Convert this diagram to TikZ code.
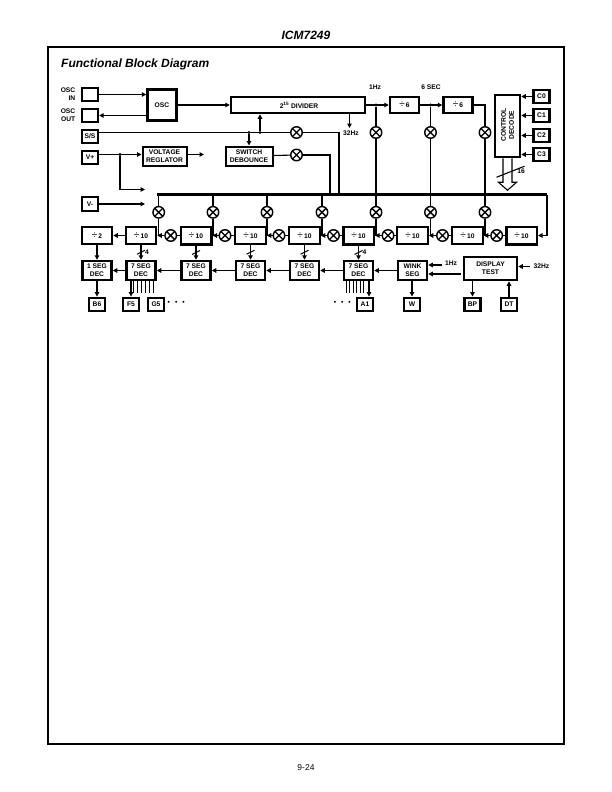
\documentclass[tikz,border=0pt]{standalone}
\usepackage{fontspec}
\setmainfont{Liberation Sans}
\usetikzlibrary{arrows.meta}
\newcommand{\divsign}{{\fontsize{10}{8}\selectfont\mdseries ÷}\,}

\begin{document}
\begin{tikzpicture}[x=1pt, y=-1pt, font=\fontsize{6.7}{8}\selectfont\bfseries,
		box_style/.style={draw=black,line width=2pt,inner sep=0pt,align=center,fill=white},
		box_heavy/.style={box_style,line width=2.5pt},
		pin_style/.style={box_style,line width=2.4pt,minimum width=16pt,minimum height=13.5pt},
		count_style/.style={box_style,minimum width=30.5pt,minimum height=17.5pt},
		count_heavy/.style={box_heavy,minimum width=30.5pt,minimum height=17.5pt},
		dec_style/.style={box_heavy,minimum width=29pt,minimum height=19pt},
		xor_style/.style={circle,draw=black,line width=1.4pt,fill=white,inner sep=0pt,minimum size=11.5pt,
			path picture={\draw[line width=1.4pt] (path picture bounding box.north west) -- (path picture bounding box.south east)
			(path picture bounding box.north east) -- (path picture bounding box.south west);}},
		dot_style/.style={circle,fill=black,inner sep=0pt,minimum size=3.2pt},
		text_style/.style={inner sep=0pt},
		edge_style/.style={draw=black,line width=1.1pt},
		arrow_style/.style={edge_style,-{Triangle[length=4.5pt,width=4.5pt]}},
		bold_arrow/.style={arrow_style,line width=1.7pt},
		bus_style/.style={draw=black,line width=3pt}]

		\useasboundingbox (0,0) rectangle (612,792);
		\draw[line width=2pt] (47.5,47.5) rectangle (564,744);
		\node[text_style,font=\fontsize{12}{14}\selectfont\bfseries\itshape] (title) at (306,35) {ICM7249};
		\node[text_style,anchor=west,font=\fontsize{12}{14}\selectfont\bfseries\itshape] (heading) at (61,64) {Functional Block Diagram};
		\node[text_style,font=\fontsize{8.5}{10}\selectfont] (page) at (306,768) {9-24};

		% inputs on the left
		\node[pin_style] (osc_in) at (90,94.5) {};
		\node[pin_style] (osc_out) at (90,115.5) {};
		\node[pin_style] (ss) at (90,136.5) {S/S};
		\node[pin_style] (vplus) at (90,157.5) {V+};
		\node[pin_style] (vminus) at (90,204) {V-};
		\node[text_style,anchor=east,align=right] (osc_in_txt) at (75.5,94) {OSC\\IN};
		\node[text_style,anchor=east,align=right] (osc_out_txt) at (75.5,115) {OSC\\OUT};

		% top row
		\node[box_heavy,minimum width=29pt,minimum height=31pt] (osc) at (162,105) {OSC};
		\node[box_heavy,minimum width=134pt,minimum height=16pt] (divider) at (298,105) {\hspace*{2pt}2\textsuperscript{15} DIVIDER};
		\node[box_style,minimum width=44pt,minimum height=19pt] (regulator) at (164.5,156) {VOLTAGE\\REGLATOR};
		\node[box_style,minimum width=47pt,minimum height=19pt] (debounce) at (249,156) {SWITCH\\DEBOUNCE};
		\node[box_heavy,minimum width=29pt,minimum height=16pt] (div6a) at (404.5,105) {\divsign 6};
		\node[box_heavy,minimum width=29pt,minimum height=16pt] (div6b) at (458,105) {\divsign 6};
		\node[box_heavy,minimum width=25pt,minimum height=62pt] (control) at (507.5,126) {};
		\node[text_style,rotate=90,align=center] (control_txt) at (507.5,125) {CONTROL\\DECODE};
		\node[pin_style] (c0) at (541.5,96.5) {C0};
		\node[pin_style] (c1) at (541.5,115.5) {C1};
		\node[pin_style] (c2) at (541.5,135.5) {C2};
		\node[pin_style] (c3) at (541.5,154.5) {C3};
		\node[text_style] (hz1) at (375,87) {1Hz};
		\node[text_style] (sec6) at (431,87) {6 SEC};
		\node[text_style] (hz32) at (351,133.5) {32Hz};
		\node[text_style] (width16) at (521,171) {16};

		% gates below the divider chain
		\node[xor_style] (xs) at (296.5,132.5) {};
		\node[xor_style] (xd) at (296.5,155) {};
		\node[xor_style] (xa) at (376,132.5) {};
		\node[xor_style] (xb) at (430.5,132.5) {};
		\node[xor_style] (xc) at (485,132.5) {};

		% counter row
		\node[count_style] (cnt0) at (97,235.5) {\divsign 2};
		\node[count_style] (cnt1) at (141,235.5) {\divsign 10};
		\node[count_heavy] (cnt2) at (196,235.5) {\divsign 10};
		\node[count_style] (cnt3) at (250.5,235.5) {\divsign 10};
		\node[count_style] (cnt4) at (304.5,235.5) {\divsign 10};
		\node[count_heavy] (cnt5) at (358.5,235.5) {\divsign 10};
		\node[count_style] (cnt6) at (412.5,235.5) {\divsign 10};
		\node[count_style] (cnt7) at (467.5,235.5) {\divsign 10};
		\node[count_heavy] (cnt8) at (521.5,235.5) {\divsign 10};

		\node[xor_style] (xt1) at (158.7,212.3) {};
		\node[xor_style] (xt2) at (213,212.3) {};
		\node[xor_style] (xt3) at (267,212.3) {};
		\node[xor_style] (xt4) at (322,212.3) {};
		\node[xor_style] (xt5) at (376,212.3) {};
		\node[xor_style] (xt6) at (430.5,212.3) {};
		\node[xor_style] (xt7) at (485,212.3) {};

		\node[xor_style] (xm1) at (170.7,235.5) {};
		\node[xor_style] (xm2) at (225,235.5) {};
		\node[xor_style] (xm3) at (279,235.5) {};
		\node[xor_style] (xm4) at (333.5,235.5) {};
		\node[xor_style] (xm5) at (388,235.5) {};
		\node[xor_style] (xm6) at (442.5,235.5) {};
		\node[xor_style] (xm7) at (496.7,235.5) {};

		% decoder row
		\node[dec_style] (dec0) at (97,270.5) {1 SEG\\DEC};
		\node[dec_style] (dec1) at (141,270.5) {7 SEG\\DEC};
		\node[dec_style] (dec2) at (196,270.5) {7 SEG\\DEC};
		\node[dec_style] (dec3) at (250.5,270.5) {7 SEG\\DEC};
		\node[dec_style] (dec4) at (304.5,270.5) {7 SEG\\DEC};
		\node[dec_style] (dec5) at (358.5,270.5) {7 SEG\\DEC};
		\node[dec_style] (wink) at (412.5,270.5) {WINK\\SEG};
		\node[box_heavy,minimum width=53pt,minimum height=23pt] (display) at (490.5,268.5) {DISPLAY\\TEST};
		\node[text_style] (wink_hz) at (451,263.5) {1Hz};
		\node[text_style] (test_hz) at (541.5,266) {32Hz};

		% output pins
		\node[pin_style] (b6) at (97,304.5) {B6};
		\node[pin_style] (f5) at (131,304.5) {F5};
		\node[pin_style] (g5) at (156,304.5) {G5};
		\node[pin_style] (a1) at (365,304.5) {A1};
		\node[pin_style] (w) at (412,304.5) {W};
		\node[pin_style] (bp) at (472.5,304.5) {BP};
		\node[pin_style] (dt) at (509,304.5) {DT};
		\node[text_style,anchor=west] (dots_left) at (167.5,303) {•\hspace{5pt}•\hspace{5pt}•};
		\node[text_style,anchor=east] (dots_right) at (351,303) {•\hspace{5pt}•\hspace{5pt}•};
		\node[text_style] (width4a) at (147,252) {4};
		\node[text_style] (width4b) at (364.5,252) {4};

		\coordinate (bus_left) at (157.2,194.5);
		\coordinate (bus_right) at (547,194.5);
		\coordinate (v_branch) at (145,189.5);
		\coordinate (v_bus) at (145,204);
		\coordinate (reg_out) at (204,154.5);
		\coordinate (hz32_end) at (349.5,128);
		\coordinate (test_in) at (530,266.5);
		\coordinate (wink_in) at (442,265);
		\coordinate (test_out) at (461,274);
		\coordinate (dec_tap) at (369,281);

		\node[dot_style] (d_ss1) at (249,132.5) {};
		\node[dot_style] (d_ss2) at (260,132.5) {};
		\node[dot_style] (d_vp) at (120,154.5) {};
		\node[dot_style] (d_1hz) at (376,105) {};
		\node[dot_style] (d_6s) at (430.5,105) {};

		\draw[arrow_style]  (osc_in.east) -- (osc_in.east -| osc.west);
		\draw[arrow_style]  (osc_out.east -| osc.west) -- (osc_out.east);
		\draw[arrow_style]  (osc) -- (divider);
		\draw[edge_style]  (ss.east |- xs) -- (xs);
		\draw[edge_style]  (xs) -| (339,194.5);
		\draw[edge_style]  (debounce) -- (xd);
		\draw[edge_style]  (xd) -| (330,194.5);
		\draw[bold_arrow]  (d_ss1) -- (debounce.north -| d_ss1);
		\draw[bold_arrow]  (d_ss2) -- (divider.south -| d_ss2);
		\draw[arrow_style]  (vplus.east |- d_vp) -- (regulator.west |- d_vp);
		\draw[arrow_style]  (regulator.east |- reg_out) -- (reg_out);
		\draw[arrow_style]  (d_vp) |- (v_branch);
		\draw[arrow_style]  (vminus) -- (v_bus);
		\draw[arrow_style]  (divider.south -| hz32_end) -- (hz32_end);

		\draw[arrow_style]  (divider) -- (div6a);
		\draw[arrow_style]  (div6a) -- (div6b);
		\draw[edge_style]  (div6b) -| (xc);
		\draw[edge_style]  (d_1hz) -- (xa);
		\draw[edge_style]  (d_6s) -- (xb);
		\draw[edge_style]  (xa) -- (xa |- bus_left);
		\draw[edge_style]  (xb) -- (xb |- bus_left);
		\draw[edge_style]  (xc) -- (xc |- bus_left);

		\draw[arrow_style]  (c0) -- (c0 -| control.east);
		\draw[arrow_style]  (c1) -- (c1 -| control.east);
		\draw[arrow_style]  (c2) -- (c2 -| control.east);
		\draw[arrow_style]  (c3) -- (c3 -| control.east);

		% wide output of the control decoder
		\draw[edge_style,fill=white]  ([xshift=-4.5]control.south) -- ++(0,24) -- ++(-4.5,0) -- ++(9,8) -- ++(9,-8) -- ++(-4.5,0) -- ([xshift=4.5]control.south);
		\draw[edge_style]  ([shift={(-11,19)}]control.south) -- ([shift={(17,8)}]control.south);

		% bus and its gates
		\draw[bus_style]  (bus_left) -- (bus_right);
		\draw[arrow_style]  (bus_right) |- (cnt8.east);
		\draw[edge_style]  (xt1 |- bus_left) -- (xt1);
		\draw[edge_style]  (xt2 |- bus_left) -- (xt2);
		\draw[edge_style]  (xt3 |- bus_left) -- (xt3);
		\draw[edge_style]  (xt4 |- bus_left) -- (xt4);
		\draw[edge_style]  (xt5 |- bus_left) -- (xt5);
		\draw[edge_style]  (xt6 |- bus_left) -- (xt6);
		\draw[edge_style]  (xt7 |- bus_left) -- (xt7);
		\draw[edge_style]  (xt1) -- (xt1 |- cnt1);
		\draw[edge_style]  (xt2) -- (xt2 |- cnt2);
		\draw[edge_style]  (xt3) -- (xt3 |- cnt3);
		\draw[edge_style]  (xt4) -- (xt4 |- cnt4);
		\draw[edge_style]  (xt5) -- (xt5 |- cnt5);
		\draw[edge_style]  (xt6) -- (xt6 |- cnt6);
		\draw[edge_style]  (xt7) -- (xt7 |- cnt7);

		\draw[arrow_style]  (cnt1) -- (cnt0);
		\draw[edge_style]  (cnt2) -- (xm1);
		\draw[arrow_style]  (xm1) -- (cnt1);
		\draw[edge_style]  (cnt3) -- (xm2);
		\draw[arrow_style]  (xm2) -- (cnt2);
		\draw[edge_style]  (cnt4) -- (xm3);
		\draw[arrow_style]  (xm3) -- (cnt3);
		\draw[edge_style]  (cnt5) -- (xm4);
		\draw[arrow_style]  (xm4) -- (cnt4);
		\draw[edge_style]  (cnt6) -- (xm5);
		\draw[arrow_style]  (xm5) -- (cnt5);
		\draw[edge_style]  (cnt7) -- (xm6);
		\draw[arrow_style]  (xm6) -- (cnt6);
		\draw[edge_style]  (cnt8) -- (xm7);
		\draw[arrow_style]  (xm7) -- (cnt7);

		\draw[bold_arrow]  (cnt0) -- (dec0);
		\draw[bold_arrow]  (cnt1) -- (dec1);
		\draw[bold_arrow]  (cnt2) -- (dec2);
		\draw[bold_arrow]  (cnt3) -- (dec3);
		\draw[bold_arrow]  (cnt4) -- (dec4);
		\draw[bold_arrow]  (cnt5) -- (dec5);
		\draw[edge_style]  ([shift={(-4,9)}]cnt1.south) -- ([shift={(4,5)}]cnt1.south);
		\draw[edge_style]  ([shift={(-4,9)}]cnt2.south) -- ([shift={(4,5)}]cnt2.south);
		\draw[edge_style]  ([shift={(-4,9)}]cnt3.south) -- ([shift={(4,5)}]cnt3.south);
		\draw[edge_style]  ([shift={(-4,9)}]cnt4.south) -- ([shift={(4,5)}]cnt4.south);
		\draw[edge_style]  ([shift={(-4,9)}]cnt5.south) -- ([shift={(4,5)}]cnt5.south);

		\draw[arrow_style]  (dec1) -- (dec0);
		\draw[arrow_style]  (dec2) -- (dec1);
		\draw[arrow_style]  (dec3) -- (dec2);
		\draw[arrow_style]  (dec4) -- (dec3);
		\draw[arrow_style]  (dec5) -- (dec4);
		\draw[arrow_style]  (wink) -- (dec5);
		\draw[bold_arrow]  (wink_in) -- (wink_in -| wink.east);
		\draw[bold_arrow]  (test_out) -- (test_out -| wink.east);
		\draw[arrow_style]  (test_in) -- (test_in -| display.east);

		% segment outputs
		\draw[bold_arrow]  (dec0) -- (b6);
		\draw[bold_arrow]  (wink.south -| w) -- (w);
		\draw[arrow_style]  (display.south -| bp) -- (bp);
		\draw[arrow_style]  (dt) -- (display.south -| dt);
		\draw[arrow_style]  (dec1.south -| f5) -- (f5);
		\draw[arrow_style]  (dec_tap) -- (dec_tap |- a1.north);
		\draw[edge_style]  ([xshift=8]dec1.south west) -- ++(0,12) ([xshift=12]dec1.south west) -- ++(0,12)
			([xshift=16]dec1.south west) -- ++(0,12) ([xshift=20]dec1.south west) -- ++(0,12)
			([xshift=24]dec1.south west) -- ++(0,12) ([xshift=28]dec1.south west) -- ++(0,12);
		\draw[edge_style]  ([xshift=3.5]dec5.south west) -- ++(0,12) ([xshift=7]dec5.south west) -- ++(0,12)
			([xshift=10.5]dec5.south west) -- ++(0,12) ([xshift=14]dec5.south west) -- ++(0,12)
			([xshift=17.5]dec5.south west) -- ++(0,12) ([xshift=21]dec5.south west) -- ++(0,12);

\end{tikzpicture}
\end{document}
